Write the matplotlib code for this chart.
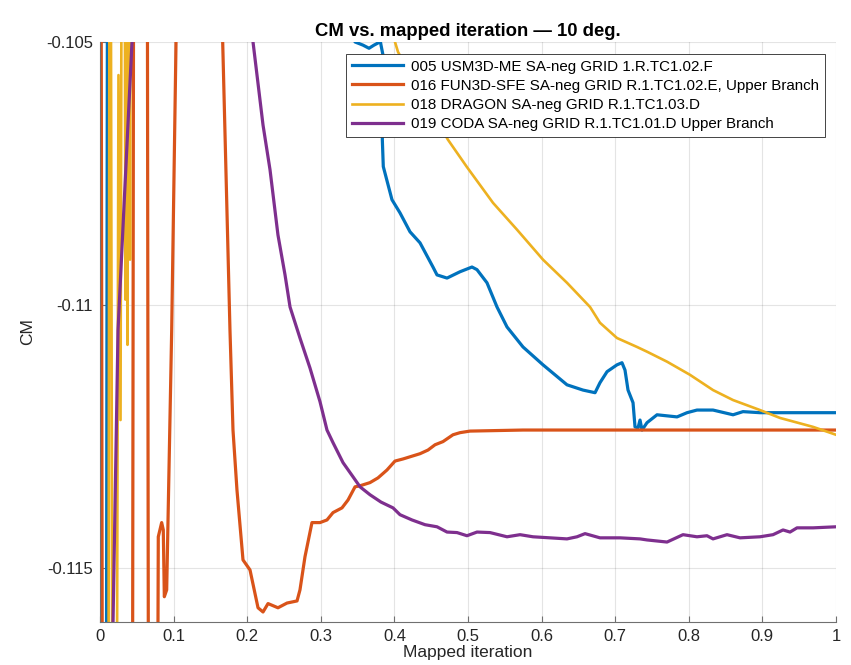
import numpy as np
import matplotlib
matplotlib.use("Agg")
import matplotlib.pyplot as plt

plt.rcParams['font.family'] = ['Liberation Sans', 'DejaVu Sans']

# series (mapped iteration, CM)
usm3d_x = [0.0, 0.0080, 0.0110, 0.3420, 0.3465, 0.3573, 0.3655, 0.3723, 0.3777, 0.3804,
           0.3818, 0.3845, 0.3836, 0.3849, 0.3967, 0.4076, 0.4212, 0.4348, 0.4524, 0.4579,
           0.4715, 0.4891, 0.5054, 0.5122, 0.5258, 0.5394, 0.5530, 0.5747, 0.6019, 0.6345,
           0.6562, 0.6726, 0.6793, 0.6889, 0.7024, 0.7092, 0.7133, 0.7174, 0.7242, 0.7269,
           0.7310, 0.7337, 0.7364, 0.7432, 0.7568, 0.7704, 0.7840, 0.7976, 0.8111, 0.8329,
           0.8601, 0.8736, 0.8967, 1.0]
usm3d_y = [-0.1250, -0.1250, -0.0950, -0.1040, -0.10500, -0.10506, -0.10512, -0.10506, -0.10502, -0.10495,
           -0.10506, -0.10525, -0.10686, -0.10737, -0.10800, -0.10825, -0.10861, -0.10882, -0.10928, -0.10943,
           -0.10949, -0.10937, -0.10928, -0.10933, -0.10958, -0.11004, -0.11042, -0.11080, -0.11114, -0.11152,
           -0.11162, -0.11167, -0.11148, -0.11127, -0.11114, -0.11110, -0.11124, -0.11162, -0.11186, -0.11232,
           -0.11234, -0.11219, -0.11238, -0.11224, -0.11209, -0.11211, -0.11213, -0.11205, -0.11200, -0.11200,
           -0.11209, -0.11203, -0.11205, -0.11205]

fun3d_x = [0.0, 0.0040, 0.0435, 0.0465, 0.0635, 0.0665, 0.0775, 0.0788, 0.0792, 0.0838,
           0.0860, 0.0874, 0.0906, 0.0974, 0.1033, 0.1080, 0.1620, 0.1667, 0.1766, 0.1807,
           0.1861, 0.1943, 0.2038, 0.2147, 0.2215, 0.2283, 0.2418, 0.2541, 0.2677, 0.2717,
           0.2785, 0.2880, 0.2989, 0.3084, 0.3166, 0.3288, 0.3370, 0.3465, 0.3533, 0.3668,
           0.3777, 0.3899, 0.4008, 0.4117, 0.4348, 0.4457, 0.4552, 0.4660, 0.4796, 0.4891,
           0.5027, 0.5747, 0.7337, 1.0]
fun3d_y = [-0.0900, -0.1250, -0.1250, -0.0950, -0.0950, -0.1250, -0.1250, -0.11605, -0.11441, -0.11414,
           -0.11428, -0.11555, -0.11542, -0.11048, -0.10500, -0.0950, -0.0950, -0.10500, -0.11048, -0.11238,
           -0.11352, -0.11485, -0.11504, -0.11576, -0.11584, -0.11568, -0.11576, -0.11567, -0.11563, -0.11542,
           -0.11479, -0.11414, -0.11414, -0.11409, -0.11395, -0.11386, -0.11371, -0.11346, -0.11344, -0.11338,
           -0.11329, -0.11314, -0.11297, -0.11293, -0.11283, -0.11276, -0.11266, -0.11260, -0.11247, -0.11243,
           -0.11240, -0.11238, -0.11238, -0.11238]

dragon_x = [0.0, 0.0109, 0.0136, 0.0177, 0.0217, 0.0251, 0.0279, 0.0306, 0.0326, 0.0346,
            0.0359, 0.0374, 0.0387, 0.0408, 0.0421, 0.3900, 0.4049, 0.4348, 0.4728, 0.4986,
            0.5340, 0.5666, 0.6019, 0.6345, 0.6658, 0.6793, 0.7024, 0.7296, 0.7432, 0.7704,
            0.8016, 0.8329, 0.8601, 0.8967, 0.9239, 0.9688, 1.0]
dragon_y = [-0.1250, -0.1250, -0.0950, -0.1250, -0.1250, -0.10563, -0.11219, -0.0950, -0.0950, -0.10990,
            -0.0950, -0.11076, -0.0950, -0.10914, -0.0950, -0.1045, -0.10519, -0.10595, -0.10686, -0.10738,
            -0.10806, -0.10857, -0.10914, -0.10958, -0.11004, -0.11034, -0.11063, -0.11080, -0.11089, -0.11108,
            -0.11133, -0.11162, -0.11181, -0.11200, -0.11215, -0.11232, -0.11247]

coda_x = [0.0120, 0.0177, 0.0245, 0.0340, 0.0435, 0.0550, 0.2000, 0.2079, 0.2215, 0.2310,
          0.2418, 0.2514, 0.2582, 0.2717, 0.2853, 0.2989, 0.3084, 0.3166, 0.3302, 0.3438,
          0.3533, 0.3668, 0.3818, 0.3981, 0.4076, 0.4239, 0.4416, 0.4579, 0.4715, 0.4851,
          0.4986, 0.5122, 0.5299, 0.5530, 0.5707, 0.5883, 0.6114, 0.6345, 0.6481, 0.6590,
          0.6793, 0.7065, 0.7337, 0.7432, 0.7704, 0.7921, 0.8111, 0.8247, 0.8329, 0.8519,
          0.8696, 0.8967, 0.9144, 0.9280, 0.9375, 0.9470, 0.9688, 1.0]
coda_y = [-0.1300, -0.11605, -0.11048, -0.10772, -0.10500, -0.1000, -0.1000, -0.10500, -0.10658, -0.10743,
          -0.10867, -0.10943, -0.11004, -0.11063, -0.11120, -0.11184, -0.11238, -0.11262, -0.11300, -0.11327,
          -0.11346, -0.11361, -0.11375, -0.11386, -0.11399, -0.11409, -0.11418, -0.11422, -0.11432, -0.11433,
          -0.11439, -0.11432, -0.11433, -0.11441, -0.11437, -0.11441, -0.11443, -0.11445, -0.11441, -0.11435,
          -0.11443, -0.11443, -0.11445, -0.11447, -0.11451, -0.11437, -0.11441, -0.11439, -0.11445, -0.11437,
          -0.11443, -0.11441, -0.11437, -0.11428, -0.11432, -0.11424, -0.11424, -0.11422]

labels = ["005 USM3D-ME SA-neg GRID 1.R.TC1.02.F",
          "016 FUN3D-SFE SA-neg GRID R.1.TC1.02.E, Upper Branch",
          "018 DRAGON SA-neg GRID R.1.TC1.03.D",
          "019 CODA SA-neg GRID R.1.TC1.01.D Upper Branch"]
colors = ["#0072BD", "#D95319", "#EDB120", "#7E2F8E"]

xticks = [0, 0.1, 0.2, 0.3, 0.4, 0.5, 0.6, 0.7, 0.8, 0.9, 1.0]
xticklabels = ["0", "0.1", "0.2", "0.3", "0.4", "0.5", "0.6", "0.7", "0.8", "0.9", "1"]
yticks = [-0.115, -0.11, -0.105]
yticklabels = ["-0.115", "-0.11", "-0.105"]

fig = plt.figure(figsize=(8.51, 6.65), dpi=100)
ax = fig.add_axes([0.1175, 0.0647, 0.8649, 0.8722])

series = [(usm3d_x, usm3d_y, 2.3), (fun3d_x, fun3d_y, 2.3),
          (dragon_x, dragon_y, 1.9), (coda_x, coda_y, 2.3)]
for (xs, ys, lw), lab, col in zip(series, labels, colors):
    ax.plot(xs, ys, color=col, lw=lw, label=lab, solid_joinstyle='round')

ax.set_xlim(0, 1)
ax.set_ylim(-0.11603, -0.105)
ax.set_xticks(xticks)
ax.set_xticklabels(xticklabels)
ax.set_yticks(yticks)
ax.set_yticklabels(yticklabels)
ax.tick_params(direction='in', length=4, width=0.8, color='#707070', labelsize=12,
               labelcolor='#262626', pad=5)
ax.grid(True, color='#262626', alpha=0.12, lw=0.8)
ax.set_axisbelow(True)
for s in ['top', 'right']:
    ax.spines[s].set_visible(False)
for s in ['left', 'bottom']:
    ax.spines[s].set_color('#707070')
    ax.spines[s].set_linewidth(0.8)

ax.set_title("CM vs. mapped iteration \u2014 10 deg.", fontsize=13.3, fontweight='bold', pad=4)
ax.set_ylabel("CM", fontsize=12.5, color='#262626', labelpad=8)
ax.set_xlabel("Mapped iteration", fontsize=12.5, color='#262626', labelpad=1)

leg = ax.legend(loc='upper right', bbox_to_anchor=(0.985, 0.98), fontsize=10.9,
                frameon=True, fancybox=False, framealpha=1, edgecolor='#262626',
                handlelength=3.4, handletextpad=0.5, borderpad=0.4, labelspacing=0.34,
                borderaxespad=0)
leg.get_frame().set_linewidth(0.6)

fig.savefig("out.png", dpi=100)
